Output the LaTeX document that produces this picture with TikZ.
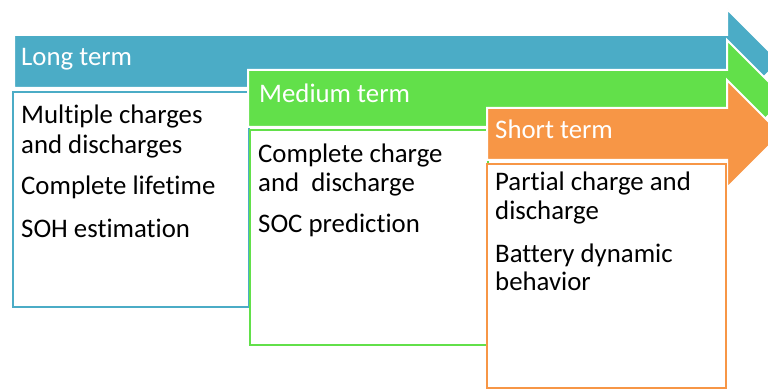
\documentclass[tikz,border=0pt]{standalone}
\usepackage{fontspec}
\setmainfont[Ligatures=NoCommon]{Carlito}
\definecolor{cblue}{HTML}{4BACC6}
\definecolor{cgreen}{HTML}{62E04A}
\definecolor{corange}{HTML}{F79646}
\begin{document}
\begin{tikzpicture}[x=1pt,y=-1pt,
  band/.style={draw=white,line width=2pt,line join=miter},
  box/.style={fill=white,line width=2.8pt},
  title/.style={anchor=base west,inner sep=0pt,text=white,font=\fontsize{26.8}{30}\selectfont},
  body/.style={anchor=base west,inner sep=0pt,text=black,font=\fontsize{26.8}{30}\selectfont}]
\clip (0,0) rectangle (768,390);
\fill[white] (0,0) rectangle (768,390);
% long term
\draw[band,fill=cblue] (14,35) -- (727,35) -- (727,9) -- (779.5,61.5) -- (727,114) -- (727,88) -- (14,88) -- cycle;
\draw[box,draw=cblue] (13,92) rectangle (249,307);
\node[title] (lt) at (21,66) {Long term};
\node[body] (l1) at (21,124) {Multiple charges};
\node[body] (l2) at (21,154) {and discharges};
\node[body] (l3) at (21,195) {Complete lifetime};
\node[body] (l4) at (21,237) {SOH estimation};
% medium term
\draw[band,fill=cgreen] (248,70) -- (727,70) -- (727,40) -- (785.5,98.5) -- (727,157) -- (727,127) -- (248,127) -- cycle;
\draw[box,draw=cgreen] (250,130) rectangle (488,345);
\node[title] (mt) at (259,103) {Medium term};
\node[body] (m1) at (258,163) {Complete charge};
\node[body] (m2) at (258,192) {and\ \ discharge};
\node[body] (m3) at (258,233) {SOC prediction};
% short term
\draw[band,fill=corange] (487,108) -- (727,108) -- (727,80) -- (781,134) -- (727,188) -- (727,160) -- (487,160) -- cycle;
\draw[box,draw=corange] (487,164) rectangle (726,388);
\node[title] (st) at (495,139) {Short term};
\node[body] (s1) at (495,190) {Partial charge and};
\node[body] (s2) at (495,219) {discharge};
\node[body] (s3) at (495,262) {Battery dynamic};
\node[body] (s4) at (495,290) {behavior};
\end{tikzpicture}
\end{document}
